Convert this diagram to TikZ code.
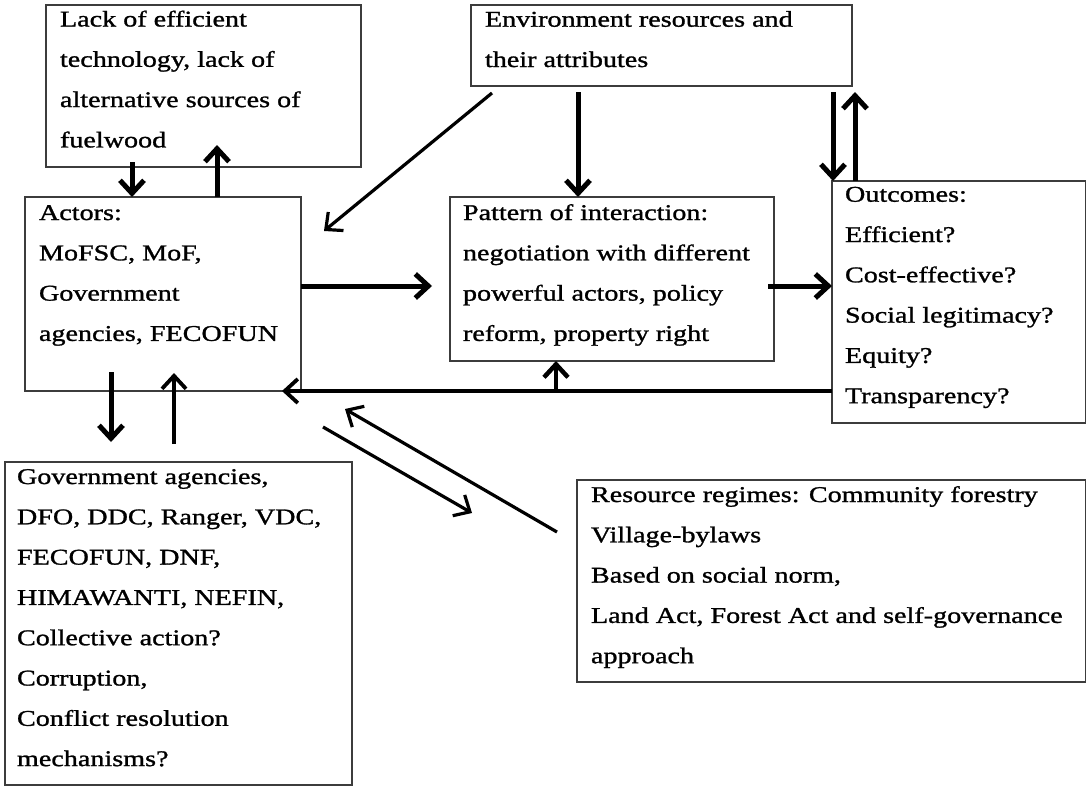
\documentclass[tikz,border=0pt]{standalone}
\usepackage{fontspec}
\setmainfont{Liberation Serif}[FakeStretch=1.25,FakeBold=1.2]
\usetikzlibrary{arrows.meta,calc}
\definecolor{boxgray}{HTML}{3C3C3C}

\begin{document}
\begin{tikzpicture}[x=1pt,y=-1pt,
  box/.style={draw=boxgray,line width=1.3pt,anchor=north west,inner sep=0pt,outer sep=0pt},
  txt/.style={anchor=north west,inner sep=0pt,outer sep=0pt,align=left,
              font=\fontsize{22.5}{40.3}\selectfont},
  arr/.style={line width=#1,-{Straight Barb[length=13pt,width=24pt]}},
]
\useasboundingbox (0,0) rectangle (1087,787);

% boxes
\node[box,minimum width=315pt,minimum height=162pt] (tech) at (46,5) {};
\node[box,minimum width=381pt,minimum height=81pt]  (env)  at (471,5) {};
\node[box,minimum width=276pt,minimum height=194pt] (act)  at (25,197) {};
\node[box,minimum width=324pt,minimum height=164pt] (pat)  at (450,197) {};
\node[box,minimum width=253.5pt,minimum height=242pt] (out) at (832,181) {};
\node[box,minimum width=347pt,minimum height=323pt] (gov)  at (5,462) {};
\node[box,minimum width=508.5pt,minimum height=202pt] (res) at (577,480) {};

% texts
\node[txt] (techT) at ($(tech.north west)+(14,0)$)
  {\rule{0pt}{21.5pt}Lack of efficient\\technology, lack of\\alternative sources of\\fuelwood};
\node[txt] (envT) at ($(env.north west)+(14,0)$)
  {\rule{0pt}{21.7pt}Environment resources and\\their attributes};
\node[txt] (actT) at ($(act.north west)+(14,0)$)
  {\rule{0pt}{23pt}Actors:\\MoFSC, MoF,\\Government\\agencies, FECOFUN};
\node[txt] (patT) at ($(pat.north west)+(13,0)$)
  {\rule{0pt}{23pt}Pattern of interaction:\\negotiation with different\\powerful actors, policy\\reform, property right};
\node[txt] (outT) at ($(out.north west)+(13,0)$)
  {\rule{0pt}{20.7pt}Outcomes:\\Efficient?\\Cost-effective?\\Social legitimacy?\\Equity?\\Transparency?};
\node[txt] (govT) at ($(gov.north west)+(12,0)$)
  {\rule{0pt}{22pt}Government agencies,\\DFO, DDC, Ranger, VDC,\\FECOFUN, DNF,\\HIMAWANTI, NEFIN,\\Collective action?\\Corruption,\\Conflict resolution\\mechanisms?};
\node[txt] (resT) at ($(res.north west)+(14,0)$)
  {\rule{0pt}{22pt}Resource regimes: Community forestry\\Village-bylaws\\Based on social norm,\\Land Act, Forest Act and self-governance\\approach};

% connectors
\draw[arr=5pt]   ($(tech.south west)+(86,-5)$) -- ($(act.north west)+(107,0)$);
\draw[arr=5pt]   ($(act.north west)+(192,0)$) -- ($(tech.south west)+(171,-22)$);
\draw[arr=3.2pt] ($(env.south west)+(21,7)$) -- ($(act.north east)+(23,34)$);
\draw[arr=5pt]   ($(env.south west)+(107,6)$) -- ($(pat.north west)+(128,0)$);
\draw[arr=5pt]   ($(env.south east)+(-19,6)$) -- ($(out.north west)+(1,0)$);
\draw[arr=5pt]   ($(out.north west)+(23,0)$) -- ($(env.south east)+(3,6)$);
\draw[arr=5pt]   ($(act.north east)+(0,89)$) -- ($(pat.north west)+(-18,89)$);
\draw[arr=5pt]   ($(pat.north east)+(-6,89)$) -- ($(out.north west)+(0,105)$);
\draw[arr=3.8pt] ($(out.north west)+(0,210)$) -- ($(act.south east)+(-19,0)$);
\draw[arr=4.5pt] ($(pat.south west)+(106,30)$) -- (pat.south west -| 556,0);
\draw[arr=5pt]   ($(act.south west)+(86,-19)$) -- ($(gov.north west)+(106,-20)$);
\draw[arr=3.8pt] ($(gov.north west)+(169,-18)$) -- ($(act.south west)+(149,-18)$);
\draw[arr=3.2pt] ($(gov.north east)+(-29,-35)$) -- ($(res.north west)+(-105,33)$);
\draw[arr=3.2pt] ($(res.north west)+(-20,52)$) -- ($(gov.north east)+(-7,-53)$);
\end{tikzpicture}
\end{document}
